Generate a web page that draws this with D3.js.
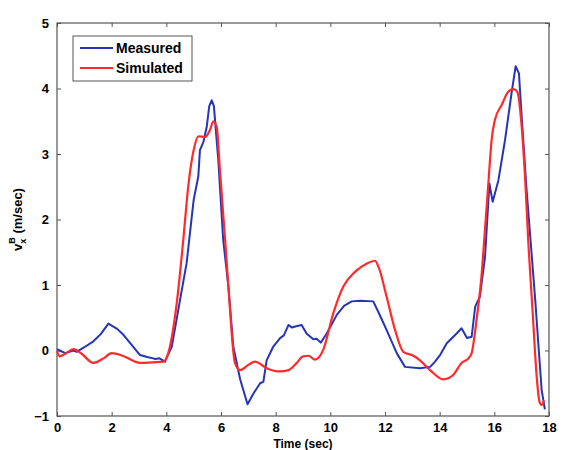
<!DOCTYPE html>
<html>
<head>
<meta charset="utf-8">
<script src="https://cdn.jsdelivr.net/npm/d3@7"></script>
<style>
  body { margin: 0; background: #fff; }
  text { font-family: "Liberation Sans", Arial, sans-serif; font-weight: bold; }
</style>
</head>
<body>
<div id="chart"></div>
<script>
// values
const measuredTime = [0, 0.1, 0.3, 0.6, 0.72, 1.0, 1.33, 1.6, 1.88, 2.0, 2.2, 2.43, 2.7, 3.04, 3.3, 3.52, 3.6, 3.75, 3.95, 4.2, 4.5, 4.74, 5.0, 5.17, 5.23, 5.36, 5.48, 5.57, 5.66, 5.74, 5.9, 6.08, 6.27, 6.45, 6.7, 6.97, 7.2, 7.43, 7.55, 7.67, 7.9, 8.16, 8.3, 8.47, 8.6, 8.75, 8.95, 9.13, 9.3, 9.38, 9.5, 9.65, 9.87, 10.23, 10.5, 10.78, 11.1, 11.57, 11.8, 12.06, 12.43, 12.73, 13.28, 13.65, 13.83, 14.0, 14.26, 14.62, 14.8, 15.0, 15.17, 15.3, 15.47, 15.66, 15.82, 15.86, 15.94, 16.15, 16.39, 16.63, 16.78, 16.9, 17.0, 17.18, 17.35, 17.5, 17.61, 17.73, 17.85];
const measuredValue = [0.02, 0.0, -0.04, 0.0, -0.02, 0.05, 0.14, 0.25, 0.41, 0.38, 0.33, 0.24, 0.1, -0.07, -0.1, -0.12, -0.13, -0.12, -0.17, 0.06, 0.77, 1.33, 2.3, 2.66, 3.06, 3.19, 3.42, 3.73, 3.82, 3.73, 2.91, 1.69, 0.98, 0.06, -0.44, -0.82, -0.65, -0.5, -0.48, -0.15, 0.05, 0.19, 0.23, 0.39, 0.35, 0.37, 0.39, 0.26, 0.2, 0.17, 0.18, 0.12, 0.26, 0.54, 0.68, 0.75, 0.76, 0.75, 0.55, 0.31, -0.04, -0.25, -0.27, -0.25, -0.17, -0.08, 0.11, 0.26, 0.34, 0.19, 0.21, 0.67, 0.82, 1.43, 2.55, 2.45, 2.27, 2.6, 3.21, 3.93, 4.34, 4.23, 3.57, 2.45, 1.55, 0.75, 0.1, -0.6, -0.9];

const simulatedTime = [0, 0.1, 0.3, 0.6, 0.9, 1.33, 1.7, 2.0, 2.4, 3.04, 3.5, 3.9, 4.07, 4.38, 4.62, 4.8, 5.0, 5.17, 5.42, 5.6, 5.72, 5.84, 5.96, 6.15, 6.27, 6.51, 6.7, 7.0, 7.24, 7.67, 8.16, 8.47, 8.75, 9.0, 9.2, 9.44, 9.74, 10.11, 10.48, 10.9, 11.34, 11.63, 11.76, 12.06, 12.37, 12.67, 13.04, 13.28, 13.65, 14.13, 14.5, 14.8, 15.05, 15.17, 15.35, 15.54, 15.65, 15.79, 15.84, 15.9, 16.02, 16.27, 16.51, 16.7, 16.84, 17.0, 17.13, 17.25, 17.4, 17.55, 17.65, 17.73, 17.82];
const simulatedValue = [-0.01, -0.09, -0.05, 0.02, -0.05, -0.19, -0.12, -0.04, -0.08, -0.19, -0.18, -0.17, -0.04, 0.72, 1.69, 2.5, 3.06, 3.27, 3.26, 3.37, 3.5, 3.42, 2.76, 1.69, 0.98, -0.19, -0.3, -0.22, -0.17, -0.27, -0.32, -0.3, -0.2, -0.09, -0.08, -0.14, 0.01, 0.57, 0.98, 1.2, 1.33, 1.37, 1.28, 0.82, 0.31, -0.02, -0.08, -0.15, -0.3, -0.44, -0.37, -0.19, -0.12, -0.04, 0.47, 1.18, 1.8, 2.6, 2.9, 3.21, 3.52, 3.75, 3.95, 3.99, 3.95, 3.42, 2.6, 1.6, 0.6, -0.4, -0.78, -0.83, -0.76];

const xTicks = [0, 2, 4, 6, 8, 10, 12, 14, 16, 18];
const yTicks = [-1, 0, 1, 2, 3, 4, 5];
const seriesNames = ['Measured', 'Simulated'];
const seriesColors = ['#2535b8', '#ff2a2a'];

const width = 564;
const height = 450;
const margin = {top: 23, right: 15, bottom: 34, left: 57};

const svg = d3.select('#chart')
  .append('svg')
  .attr('width', width)
  .attr('height', height);

const x = d3.scaleLinear().domain([0, 18]).range([margin.left, width - margin.right]);
const y = d3.scaleLinear().domain([-1, 5]).range([height - margin.bottom, margin.top]);

const frameColor = '#555';
const tickLen = 4;
const intFormat = d3.format('d');

// axes (ticks point inward like matlab)
svg.append('g')
  .attr('transform', `translate(0,${y(-1)})`)
  .call(d3.axisBottom(x).tickValues(xTicks).tickSizeInner(-tickLen).tickSizeOuter(0).tickPadding(7).tickFormat(intFormat))
  .call(g => g.select('.domain').remove());

svg.append('g')
  .attr('transform', `translate(0,${y(5)})`)
  .call(d3.axisTop(x).tickValues(xTicks).tickSizeInner(-tickLen).tickSizeOuter(0).tickFormat(''))
  .call(g => g.select('.domain').remove());

svg.append('g')
  .attr('transform', `translate(${x(0)},0)`)
  .call(d3.axisLeft(y).tickValues(yTicks).tickSizeInner(-tickLen).tickSizeOuter(0).tickPadding(8).tickFormat(intFormat))
  .call(g => g.select('.domain').remove());

svg.append('g')
  .attr('transform', `translate(${x(18)},0)`)
  .call(d3.axisRight(y).tickValues(yTicks).tickSizeInner(-tickLen).tickSizeOuter(0).tickFormat(''))
  .call(g => g.select('.domain').remove());

svg.selectAll('.tick line').attr('stroke', frameColor);
svg.selectAll('.tick text')
  .attr('fill', '#000')
  .style('font-size', '13px');

svg.append('rect')
  .attr('x', x(0))
  .attr('y', y(5))
  .attr('width', x(18) - x(0))
  .attr('height', y(-1) - y(5))
  .attr('fill', 'none')
  .attr('stroke', frameColor)
  .attr('stroke-width', 1.2);

// curves
const measured = measuredTime.map((t, i) => ({t: t, v: measuredValue[i]}));
const simulated = simulatedTime.map((t, i) => ({t: t, v: simulatedValue[i]}));

const line = d3.line()
  .x(d => x(d.t))
  .y(d => y(d.v));

svg.append('path')
  .datum(measured)
  .attr('d', line.curve(d3.curveLinear))
  .attr('fill', 'none')
  .attr('stroke', seriesColors[0])
  .attr('stroke-width', 2)
  .attr('stroke-linejoin', 'round');

svg.append('path')
  .datum(simulated)
  .attr('d', line.curve(d3.curveMonotoneX))
  .attr('fill', 'none')
  .attr('stroke', seriesColors[1])
  .attr('stroke-width', 2.2)
  .attr('stroke-linejoin', 'round');

// legend
const legend = svg.append('g').attr('transform', 'translate(73,36)');
legend.append('rect')
  .attr('width', 119)
  .attr('height', 45)
  .attr('fill', '#fff')
  .attr('stroke', frameColor)
  .attr('stroke-width', 1);

seriesNames.forEach((name, i) => {
  const ly = 12 + i * 20;
  legend.append('line')
    .attr('x1', 7).attr('x2', 40)
    .attr('y1', ly).attr('y2', ly)
    .attr('stroke', seriesColors[i])
    .attr('stroke-width', 2);
  legend.append('text')
    .attr('x', 43)
    .attr('y', ly + 5)
    .style('font-size', '14px')
    .text(name);
});

// axis labels
svg.append('text')
  .attr('x', (x(0) + x(18)) / 2)
  .attr('y', 448)
  .attr('text-anchor', 'middle')
  .style('font-size', '12px')
  .text('Time (sec)');

const yLabel = svg.append('text')
  .attr('transform', `translate(22,${(y(-1) + y(5)) / 2}) rotate(-90)`)
  .attr('text-anchor', 'middle')
  .style('font-size', '13px');
yLabel.append('tspan').text('v');
yLabel.append('tspan').attr('dy', 4).style('font-size', '9px').text('x');
yLabel.append('tspan').attr('dx', -5).attr('dy', -11).style('font-size', '9px').text('B');
yLabel.append('tspan').attr('dy', 7).text(' (m/sec)');
</script>
</body>
</html>
